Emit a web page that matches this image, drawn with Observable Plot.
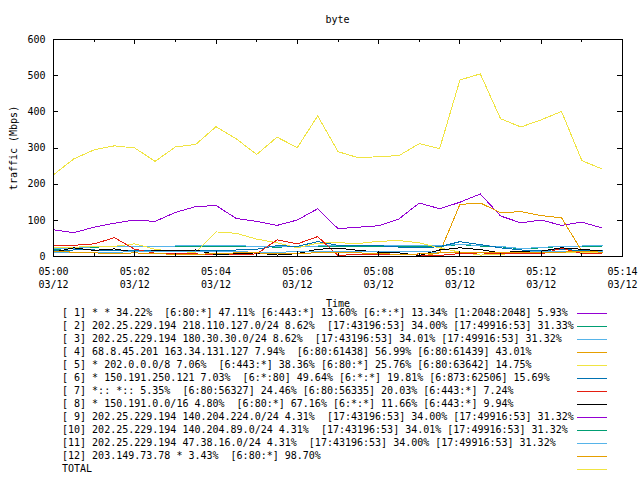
<!DOCTYPE html>
<html><head><meta charset="utf-8">
<script src="https://cdn.jsdelivr.net/npm/d3@7"></script>
<script src="https://cdn.jsdelivr.net/npm/@observablehq/plot@0.6"></script>
<style>
body{margin:0;background:#fff;}
#wrap{position:relative;width:640px;height:480px;overflow:hidden;font-family:"DejaVu Sans Mono",monospace;font-size:10px;color:#000;background:#fff;}
#title{position:absolute;left:53px;width:569px;top:13px;height:13px;line-height:13px;text-align:center;}
#chart{position:absolute;left:0;top:30px;}
#chart svg{overflow:visible;}
.row{position:absolute;left:62px;height:13px;line-height:13px;white-space:pre;}
.sw{position:absolute;left:577px;width:30px;height:1px;}
</style>
</head><body>
<div id="wrap">
  <div id="title"></div>
  <div id="chart"></div>
  <div id="legend"></div>
</div>
<script>
const titleText = "byte";
const xLabel = "Time";
const yLabel = "traffic (Mbps)";

const minutes = [0,0.5,1,1.5,2,2.5,3,3.5,4,4.5,5,5.5,6,6.5,7,7.5,8,8.5,9,9.5,10,10.5,11,11.5,12,12.5,13,13.5];

const s1  = [74,66,81,92,101,97,122,138,141,105,97,86,101,132,77,81,85,104,148,132,150,173,112,93,101,86,95,79];
const s2  = [20,22,26,27,27,27,28,29,29,29,27,26,27,28,29,29,29,29,29,28,33,29,27,21,24,28,28,29];
const s3  = [21,23,27,28,28,28,29,30,30,30,28,27,28,29,30,30,30,30,30,29,34,30,28,22,25,29,29,30];
const s4  = [0,0,0,0,0,0,0,0,0,0,0,0,0,0,0,0,0,0,0,10,144,148,121,124,113,107,15,13];
const s5  = [26,26,27,28,35,20,13,12,68,64,48,38,24,37,38,36,42,44,38,24,12,4,6,10,10,12,12,12];
const s6  = [17,18,18,17,16,17,17,17,16,18,20,30,28,41,31,30,30,26,24,27,41,33,24,18,17,19,17,17];
const s7  = [31,31,35,52,20,9,7,7,6,6,7,46,35,55,3,6,6,6,4,3,8,10,8,7,7,23,8,7];
const s8  = [12,24,17,21,12,16,17,18,5,8,10,4,8,20,23,17,12,10,3,18,24,19,10,15,15,24,20,15];
const s9  = [10,11,12,12,13,13,13,14,14,13,12,12,13,14,14,14,13,13,13,12,12,12,11,12,13,14,14,14];
const s10 = [10,11,12,12,13,13,13,14,14,13,12,12,13,14,14,14,13,13,13,12,12,12,11,12,13,14,14,14];
const s11 = [10,11,12,12,13,13,13,14,14,13,12,12,13,14,14,14,13,13,13,12,12,12,11,12,13,14,14,14];
const s12 = [14,12,10,8,10,8,6,6,8,10,10,8,9,10,12,10,8,6,7,10,12,12,10,10,10,12,14,12];
const total = [226,270,295,306,300,263,303,310,359,325,282,330,301,389,290,273,276,279,312,298,488,505,381,358,378,401,265,242];

const seriesLabels = [
  "[ 1] * * 34.22%  [6:80:*] 47.11% [6:443:*] 13.60% [6:*:*] 13.34% [1:2048:2048] 5.93%",
  "[ 2] 202.25.229.194 218.110.127.0/24 8.62%  [17:43196:53] 34.00% [17:49916:53] 31.33%",
  "[ 3] 202.25.229.194 180.30.30.0/24 8.62%  [17:43196:53] 34.01% [17:49916:53] 31.32%",
  "[ 4] 68.8.45.201 163.34.131.127 7.94%  [6:80:61438] 56.99% [6:80:61439] 43.01%",
  "[ 5] * 202.0.0.0/8 7.06%  [6:443:*] 38.36% [6:80:*] 25.76% [6:80:63642] 14.75%",
  "[ 6] * 150.191.250.121 7.03%  [6:*:80] 49.64% [6:*:*] 19.81% [6:873:62506] 15.69%",
  "[ 7] *:: *:: 5.35%  [6:80:56327] 24.46% [6:80:56335] 20.03% [6:443:*] 7.24%",
  "[ 8] * 150.191.0.0/16 4.80%  [6:80:*] 67.16% [6:*:*] 11.66% [6:443:*] 9.94%",
  "[ 9] 202.25.229.194 140.204.224.0/24 4.31%  [17:43196:53] 34.00% [17:49916:53] 31.32%",
  "[10] 202.25.229.194 140.204.89.0/24 4.31%  [17:43196:53] 34.01% [17:49916:53] 31.32%",
  "[11] 202.25.229.194 47.38.16.0/24 4.31%  [17:43196:53] 34.00% [17:49916:53] 31.32%",
  "[12] 203.149.73.78 * 3.43%  [6:80:*] 98.70%",
  "TOTAL"
];
const seriesColors = ["#9400d3","#009e73","#56b4e9","#e69f00","#f0e442","#0072b2","#e51e10","#000000","#9400d3","#009e73","#56b4e9","#e69f00","#f0e442"];
const seriesValues = [s1,s2,s3,s4,s5,s6,s7,s8,s9,s10,s11,s12,total];

const xMajor = [0,2,4,6,8,10,12,14];
const xMinor = [1,3,5,7,9,11,13];
const xTickLabels = ["05:00\n03/12","05:02\n03/12","05:04\n03/12","05:06\n03/12","05:08\n03/12","05:10\n03/12","05:12\n03/12","05:14\n03/12"];
const yTicks = [0,100,200,300,400,500,600];

document.getElementById("title").textContent = titleText;

const W = 640, H = 276, mL = 53, mR = 18, mT = 9, mB = 50;
const innerH = H - mT - mB, innerW = W - mL - mR;
const majLen = 5, minLen = 3;

const chart = Plot.plot({
  width: W, height: H,
  marginLeft: mL, marginRight: mR, marginTop: mT, marginBottom: mB,
  style: {fontFamily: "'DejaVu Sans Mono', monospace", fontSize: "10px", background: "white", color: "black", overflow: "visible"},
  x: {domain: [0, 14]},
  y: {domain: [0, 600]},
  marks: [
    ...seriesValues.map((vals, i) => Plot.line(minutes, {x: d => d, y: (d, j) => vals[j], stroke: seriesColors[i], strokeWidth: 1, shapeRendering: "crispEdges"})),
    Plot.ruleX(xMajor, {x: d => d, insetTop: innerH - majLen, stroke: "black", shapeRendering: "crispEdges"}),
    Plot.ruleX(xMajor, {x: d => d, insetBottom: innerH - majLen, stroke: "black", shapeRendering: "crispEdges"}),
    Plot.ruleX(xMinor, {x: d => d, insetTop: innerH - minLen, stroke: "black", shapeRendering: "crispEdges"}),
    Plot.ruleX(xMinor, {x: d => d, insetBottom: innerH - minLen, stroke: "black", shapeRendering: "crispEdges"}),
    Plot.ruleY(yTicks, {y: d => d, insetRight: innerW - majLen, stroke: "black", shapeRendering: "crispEdges"}),
    Plot.ruleY(yTicks, {y: d => d, insetLeft: innerW - majLen, stroke: "black", shapeRendering: "crispEdges"}),
    Plot.frame({stroke: "black", shapeRendering: "crispEdges"}),
    Plot.axisX(xMajor, {tickSize: 0, tickPadding: 9, lineHeight: 1.3, tickFormat: d => xTickLabels[xMajor.indexOf(d)],
      label: xLabel, labelAnchor: "center", labelArrow: "none", labelOffset: 50}),
    Plot.axisY(yTicks, {tickSize: 0, tickPadding: 8, tickFormat: d => String(d),
      label: yLabel, labelAnchor: "center", labelArrow: "none", labelOffset: 44})
  ]
});
document.getElementById("chart").appendChild(chart);

const legend = document.getElementById("legend");
seriesLabels.forEach((lab, i) => {
  const top = 313 + 13 * i;
  const r = document.createElement("div");
  r.className = "row";
  r.style.top = (top - 7) + "px";
  r.textContent = lab;
  legend.appendChild(r);
  const s = document.createElement("div");
  s.className = "sw";
  s.style.top = top + "px";
  s.style.background = seriesColors[i];
  legend.appendChild(s);
});
</script>
</body></html>
